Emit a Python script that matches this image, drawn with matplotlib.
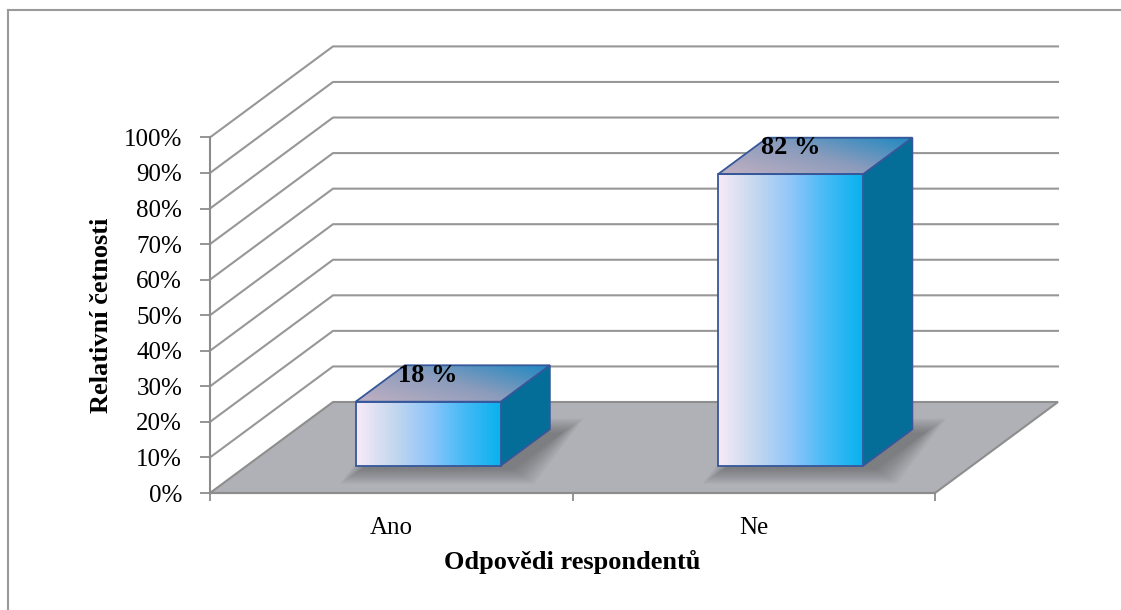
import matplotlib.pyplot as plt
import numpy as np
from matplotlib.colors import LinearSegmentedColormap
from matplotlib.patches import Polygon
from matplotlib.lines import Line2D

categories = ['Ano', 'Ne']
values = [18, 82]
labels = ['18 %', '82 %']
yticks = list(range(0, 101, 10))
yticklabels = [f'{t}%' for t in yticks]

# oblique projection: full depth of the floor, in data units
DX = 123 / 362.5
DY = 91 / 3.556
BAR_W = 0.4
D0, D1 = 0.3, 0.7


def proj(x, v, d):
    return (x + d * DX, v + d * DY)


plt.rcParams['font.family'] = ['Liberation Serif', 'DejaVu Serif']

fig = plt.figure(figsize=(11.21, 6.10), dpi=100)
ax = fig.add_axes([0, 0, 1, 1])
ax.set_xlim(-210 / 362.5, (1121 - 210) / 362.5)
ax.set_ylim((493 - 610) / 3.556, 493 / 3.556)
ax.patch.set_visible(False)

grid_c = '#979797'
# back wall + side wall gridlines
for v in yticks[1:]:
    pts = [proj(0, v, 0), proj(0, v, 1), proj(len(categories), v, 1)]
    ax.plot(*zip(*pts), color=grid_c, lw=1.5, zorder=1)

# floor
floor = [proj(0, 0, 0), proj(len(categories), 0, 0),
         proj(len(categories), 0, 1), proj(0, 0, 1)]
ax.add_patch(Polygon(floor, closed=True, facecolor='#AFB1B7',
                     edgecolor='#8E8E8E', lw=1.5, zorder=2))

front_cmap = LinearSegmentedColormap.from_list(
    'front', ['#F8EAF8', '#C6D8EE', '#92C6FA', '#45BAF6', '#08B2EE'])
top_cmap = LinearSegmentedColormap.from_list(
    'top', ['#C0B0C2', '#8C9CBC', '#1E88C2'])
edge_c = '#36579A'

for i, (cat, val, lab) in enumerate(zip(categories, values, labels)):
    xc = i + 0.5
    xl, xr = xc - BAR_W / 2, xc + BAR_W / 2

    # soft shadow on the floor
    fl = proj(xl, 0, D0); fr = proj(xr, 0, D0)
    br = proj(xr, 0, D1); bl = proj(xl, 0, D1)
    for k in range(14):
        e = k * 0.0045
        ey = e * 70
        sh = [(fl[0] - e + 0.015, fl[1] - ey - 1.0),
              (fr[0] + e + 0.035, fr[1] - ey - 1.0),
              (br[0] + e + 0.035, br[1] + ey - 1.0),
              (bl[0] - e + 0.015, bl[1] + ey - 1.0)]
        ax.add_patch(Polygon(sh, closed=True, facecolor='#3C3C3C',
                             edgecolor='none', alpha=0.035, zorder=3))

    # side face
    side = [proj(xr, 0, D0), proj(xr, val, D0), proj(xr, val, D1), proj(xr, 0, D1)]
    ax.add_patch(Polygon(side, closed=True, facecolor='#046E98',
                         edgecolor=edge_c, lw=1.3, zorder=4))

    # top face with diagonal gradient
    top = [proj(xl, val, D0), proj(xr, val, D0), proj(xr, val, D1), proj(xl, val, D1)]
    top_patch = Polygon(top, closed=True, facecolor='none',
                        edgecolor=edge_c, lw=1.3, zorder=6)
    ax.add_patch(top_patch)
    gx, gy = np.meshgrid(np.linspace(0, 1, 60), np.linspace(0, 1, 60))
    grad = 0.6 * gx + 0.4 * gy
    tx = [p[0] for p in top]
    ty = [p[1] for p in top]
    im = ax.imshow(grad, cmap=top_cmap, extent=(min(tx), max(tx), min(ty), max(ty)),
                   origin='lower', aspect='auto', interpolation='bicubic', zorder=5)
    im.set_clip_path(top_patch)

    # front face with horizontal gradient
    f0 = proj(xl, 0, D0)
    f1 = proj(xr, val, D0)
    ax.imshow(np.linspace(0, 1, 200).reshape(1, -1), cmap=front_cmap,
              extent=(f0[0], f1[0], f0[1], f1[1]), aspect='auto',
              interpolation='bicubic', zorder=5)
    ax.add_patch(Polygon([f0, (f1[0], f0[1]), f1, (f0[0], f1[1])], closed=True,
                         facecolor='none', edgecolor=edge_c, lw=1.3, zorder=6))

    ax.annotate(lab, xy=proj(xc, val, D0), xytext=(0, 19), textcoords='offset points',
                ha='center', va='center', fontsize=19, fontweight='bold', zorder=7)

# axes
axis_c = '#8C8C8C'
for s in ['top', 'right']:
    ax.spines[s].set_visible(False)
ax.spines['left'].set_position(('data', 0))
ax.spines['left'].set_bounds(0, 100)
ax.spines['bottom'].set_position(('data', 0))
ax.spines['bottom'].set_bounds(0, len(categories))
for s in ['left', 'bottom']:
    ax.spines[s].set_color(axis_c)
    ax.spines[s].set_linewidth(1.5)
    ax.spines[s].set_zorder(2.5)

ax.set_yticks(yticks)
ax.set_yticklabels(yticklabels)
ax.tick_params(axis='y', direction='out', length=7, width=1.3, color=axis_c,
               pad=13, labelsize=18)
ax.set_xticks(range(len(categories) + 1))
ax.set_xticklabels([])
ax.set_xticks([i + 0.5 for i in range(len(categories))], minor=True)
ax.set_xticklabels(categories, minor=True)
ax.tick_params(axis='x', which='major', direction='out', length=6, width=1.3, color=axis_c)
ax.tick_params(axis='x', which='minor', length=0, pad=17, labelsize=18)

ax.annotate('Relativní četnosti', xy=(0, 50), xytext=(-78, 0), textcoords='offset points',
            rotation=90, ha='center', va='center', fontsize=19, fontweight='bold')
ax.annotate('Odpovědi respondentů', xy=(len(categories) / 2, 0), xytext=(0, -50),
            textcoords='offset points', ha='center', va='center',
            fontsize=19, fontweight='bold')

# chart frame
fig.add_artist(Line2D([8 / 1121, 8 / 1121], [0, 1 - 10 / 610], transform=fig.transFigure,
                      color='#9A9A9A', lw=1.5))
fig.add_artist(Line2D([8 / 1121, 1], [1 - 10 / 610, 1 - 10 / 610], transform=fig.transFigure,
                      color='#9A9A9A', lw=1.5))

fig.savefig('out.png', dpi=100)
